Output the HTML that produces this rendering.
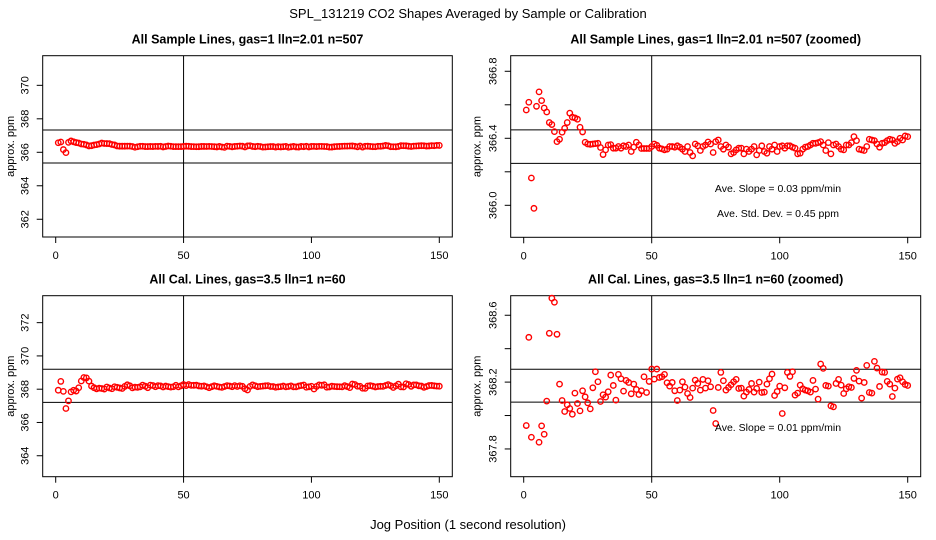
<!DOCTYPE html>
<html><head><meta charset="utf-8"><style>
html,body{margin:0;padding:0;background:#fff;width:936px;height:540px;overflow:hidden;}
svg{display:block;font-family:"Liberation Sans",sans-serif;}
</style></head><body>
<svg id="chart" width="936" height="540" viewBox="0 0 936 540">
<text x="468" y="18" text-anchor="middle" font-size="13">SPL_131219  CO2 Shapes Averaged by Sample or Calibration</text>
<text x="468" y="529" text-anchor="middle" font-size="13">Jog Position (1 second resolution)</text>
</svg>
<script>
const sampleValues=[366.569,366.615,366.163,365.982,366.591,366.677,366.625,366.581,366.557,366.494,
366.482,366.440,366.380,366.394,366.436,366.460,366.494,366.550,366.526,366.522,
366.514,366.466,366.438,366.376,366.366,366.364,366.366,366.368,366.370,366.345,
366.303,366.331,366.360,366.362,366.341,366.341,366.351,366.341,366.355,366.351,
366.360,366.321,366.347,366.376,366.360,366.339,366.339,366.339,366.339,366.351,
366.366,366.358,366.341,366.337,366.331,366.335,366.351,366.351,366.347,366.355,
366.347,366.335,366.321,366.351,366.315,366.295,366.366,366.355,366.327,366.351,
366.360,366.378,366.366,366.315,366.380,366.390,366.351,366.335,366.360,366.347,
366.307,366.315,366.331,366.341,366.341,366.307,366.335,366.321,366.335,366.351,
366.301,366.327,366.355,366.321,366.311,366.351,366.335,366.360,366.321,366.351,
366.355,366.341,366.355,366.355,366.347,366.341,366.307,366.311,366.335,366.347,
366.351,366.360,366.370,366.370,366.374,366.380,366.360,366.327,366.374,366.307,
366.360,366.366,366.351,366.335,366.331,366.360,366.360,366.374,366.410,366.386,
366.335,366.331,366.327,366.351,366.394,366.390,366.386,366.366,366.347,366.370,
366.374,366.386,366.394,366.390,366.370,366.380,366.400,366.390,366.414,366.410];
const calValues=[367.94,368.468,367.87,366.84,367.30,367.84,367.938,367.888,368.086,368.492,
368.702,368.678,368.486,368.188,368.09,368.024,368.064,368.042,368.008,368.134,
368.072,368.028,368.148,368.112,368.076,368.04,368.166,368.262,368.202,368.084,
368.124,368.11,368.142,368.242,368.18,368.092,368.246,368.22,368.146,368.21,
368.198,368.13,368.188,368.156,368.126,368.148,368.232,368.138,368.204,368.278,
368.218,368.278,368.228,368.232,368.246,368.196,368.176,368.198,368.148,368.09,
368.152,368.202,368.17,368.132,368.108,368.164,368.212,368.192,368.152,368.216,
368.164,368.208,368.172,368.03,367.952,368.168,368.258,368.208,368.152,368.168,
368.184,368.202,368.216,368.162,368.164,368.116,368.14,368.156,368.192,368.14,
368.162,368.2,368.138,368.14,368.188,368.22,368.248,368.12,368.144,368.176,
368.012,368.166,368.258,368.234,368.262,368.122,368.134,368.182,368.16,368.152,
368.148,368.14,368.21,368.158,368.098,368.308,368.282,368.18,368.176,368.058,
368.052,368.192,368.216,368.182,368.132,368.16,368.172,368.168,368.222,368.27,
368.206,368.104,368.198,368.3,368.138,368.134,368.324,368.284,368.174,368.26,
368.258,368.204,368.188,368.114,368.164,368.218,368.226,368.202,368.186,368.18];
const xTicks=[0,50,100,150];
const p1Ticks=[362,364,366,368,370];
const p2Ticks=[366.0,366.2,366.4,366.6,366.8];
const p2Labels=["366.0","","366.4","","366.8"];
const p3Ticks=[364,366,368,370,372];
const p4Ticks=[367.8,368.0,368.2,368.4,368.6];
const p4Labels=["367.8","","368.2","","368.6"];
const p1Ref=[367.33,365.36], p2Ref=[366.45,366.25], p3Ref=[369.2,367.21], p4Ref=[368.277,368.08];

const NS="http://www.w3.org/2000/svg";
const svg=document.getElementById('chart');
function mk(tag,attrs,parent){const e=document.createElementNS(NS,tag);for(const k in attrs)e.setAttribute(k,attrs[k]);(parent||svg).appendChild(e);return e;}

const panels=[
 {id:'p1',title:'All Sample Lines, gas=1 lln=2.01 n=507',L:42.7,R:452.3,T:55.7,B:237,ymin:360.94,ymax:371.77,ticks:p1Ticks,labels:p1Ticks.map(String),data:sampleValues,ref:p1Ref,notes:[]},
 {id:'p2',title:'All Sample Lines, gas=1 lln=2.01 n=507 (zoomed)',L:510.7,R:920.7,T:55.7,B:237.3,ymin:365.809,ymax:366.893,ticks:p2Ticks,labels:p2Labels,data:sampleValues,ref:p2Ref,notes:[['Ave. Slope =  0.03  ppm/min',192],['Ave. Std. Dev. =  0.45  ppm',217]]},
 {id:'p3',title:'All Cal. Lines, gas=3.5 lln=1 n=60',L:42.7,R:452.3,T:295.7,B:476.7,ymin:362.74,ymax:373.62,ticks:p3Ticks,labels:p3Ticks.map(String),data:calValues,ref:p3Ref,notes:[]},
 {id:'p4',title:'All Cal. Lines, gas=3.5 lln=1 n=60 (zoomed)',L:510.7,R:920.7,T:295.7,B:476.7,ymin:367.634,ymax:368.717,ticks:p4Ticks,labels:p4Labels,data:calValues,ref:p4Ref,notes:[['Ave. Slope =  0.01  ppm/min',431]]}
];
panels.forEach((p,pi)=>{
 const g=mk('g',{});
 
 
 const xs=v=>p.L+13+(v-0)/150*(p.R-p.L-26);
 const ys=v=>p.B-(v-p.ymin)/(p.ymax-p.ymin)*(p.B-p.T);
 const t=mk('text',{x:(p.L+p.R)/2,y:p.T-12,'text-anchor':'middle','font-size':'12.5','font-weight':'bold'},g);
 t.textContent=p.title;
 
 
 const box=mk('rect',{x:p.L,y:p.T,width:p.R-p.L,height:p.B-p.T,fill:'none',stroke:'#000','stroke-width':1},g);
 
 
 xTicks.forEach(v=>{
  const x=xs(v);
  mk('line',{x1:x,x2:x,y1:p.B,y2:p.B+6,stroke:'#000'},g);
  const l=mk('text',{x:x,y:p.B+22,'text-anchor':'middle','font-size':'11'},g);
  l.textContent=v;
  
  
 });
 p.ticks.forEach((v,i)=>{
  const y=ys(v);
  mk('line',{x1:p.L-6,x2:p.L,y1:y,y2:y,stroke:'#000'},g);
  if(p.labels[i]){
   const l=mk('text',{x:p.L-14,y:y,'text-anchor':'middle','font-size':'11',transform:`rotate(-90 ${p.L-14} ${y})`},g);
   l.textContent=p.labels[i];
   
   
  }
 });
 const ya=mk('text',{x:14,y:(p.T+p.B)/2,'text-anchor':'middle','font-size':'11',transform:`rotate(-90 14 ${(p.T+p.B)/2})`},g);
 ya.textContent='approx. ppm';
 if(p.L>400){ya.setAttribute('x',p.L-30);ya.setAttribute('transform',`rotate(-90 ${p.L-30} ${(p.T+p.B)/2})`);}
 
 
 const vx=xs(50);
 const vl=mk('line',{x1:vx,x2:vx,y1:p.T,y2:p.B,stroke:'#000'},g);
 
 
 p.ref.forEach(v=>{
  const hl=mk('line',{x1:p.L,x2:p.R,y1:ys(v),y2:ys(v),stroke:'#000'},g);
  
  
 });
 const pts=mk('g',{},g);
 
 
 p.data.forEach((v,i)=>{
  if(v<p.ymin||v>p.ymax) return;
  const c=mk('circle',{cx:xs(i+1),cy:ys(v),r:2.7,fill:'none',stroke:'#f00','stroke-width':1.4},pts);
  
  
 });
 p.notes.forEach(n=>{
  const a=mk('text',{x:778,y:n[1],'text-anchor':'middle','font-size':'10.5'},g);
  a.textContent=n[0];
  
  
 });
});
</script>
</body></html>
